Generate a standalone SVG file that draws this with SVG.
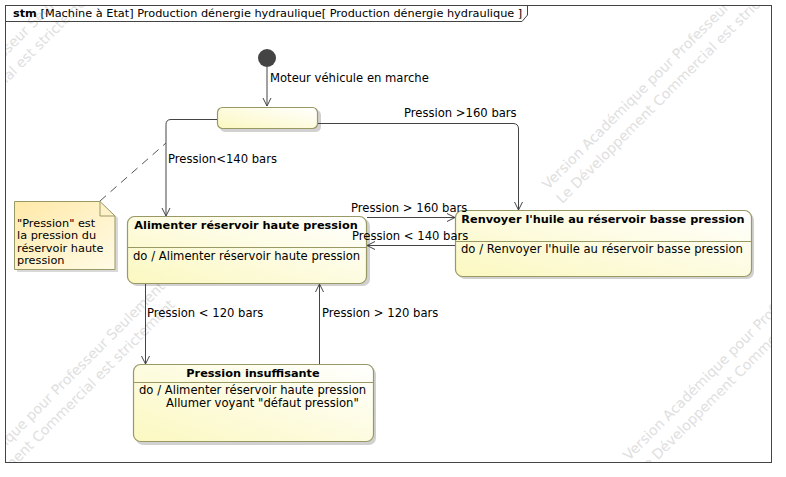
<svg xmlns="http://www.w3.org/2000/svg" width="786" height="477" viewBox="0 0 786 477">
<style>
text{font-family:"DejaVu Sans",Verdana,sans-serif;font-size:11.6px;fill:#000}
.b{font-weight:bold;font-size:11.3px}
.t{font-size:11.3px}
.n{font-size:11.3px}
.wm{font-size:14px;fill:#e0e0e0}
.st{stroke:#999966;stroke-width:1.2;fill:url(#g)}
.sh{fill:#000;opacity:0.18}
.c{fill:none;stroke:#444;stroke-width:1}
.sep{stroke:#999966;stroke-width:1}
</style>
<defs>
<linearGradient id="g" x1="0" y1="1" x2="1" y2="0">
<stop offset="0" stop-color="#FBF8C0"/>
<stop offset="1" stop-color="#FFFFFF"/>
</linearGradient>
<linearGradient id="gn" x1="0" y1="0" x2="1" y2="1">
<stop offset="0" stop-color="#FFE9A8"/>
<stop offset="1" stop-color="#FFFBE6"/>
</linearGradient>
<marker id="a" markerWidth="10" markerHeight="10" refX="9" refY="5" orient="auto" markerUnits="userSpaceOnUse">
<path d="M1,1 L9,5 L1,9" fill="none" stroke="#444" stroke-width="1"/>
</marker>
<clipPath id="fc"><rect x="5" y="5" width="767" height="458"/></clipPath>
</defs>
<rect width="786" height="477" fill="#fff"/>
<g id="watermark" clip-path="url(#fc)">
<g transform="translate(548,190) rotate(-45)"><text class="wm">Version Académique pour Professeur Seulement</text><text class="wm" y="20">Le Développement Commercial est strictement</text></g>
<g transform="translate(-152,214) rotate(-45)"><text class="wm">Version Académique pour Professeur Seulement</text><text class="wm" y="20">Le Développement Commercial est strictement</text></g>
<g transform="translate(-73,526) rotate(-45)"><text class="wm">Version Académique pour Professeur Seulement</text><text class="wm" y="20">Le Développement Commercial est strictement</text></g>
<g transform="translate(629,461) rotate(-45)"><text class="wm">Version Académique pour Professeur Seulement</text><text class="wm" y="20">Le Développement Commercial est strictement</text></g>
</g>
<g id="frame">
<rect x="5.5" y="5.5" width="766" height="457" fill="none" stroke="#444"/>
<path d="M5.5,21.5 H522 L527.5,15 V5.5" fill="none" stroke="#444"/>
<text class="t" x="13" y="17"><tspan class="b">stm</tspan> [Machine à Etat] Production dénergie hydraulique[ Production dénergie hydraulique ]</text>
</g>
<g id="initial">
<circle cx="267" cy="58" r="9" fill="#444"/>
</g>
<g id="state0">
<rect class="sh" x="220" y="110" width="101" height="22" rx="5"/>
<rect class="st" x="217.5" y="107.5" width="100" height="21" rx="5"/>
</g>
<g id="note">
<path d="M17,204 H103 L118,218 V272 H17 Z" fill="#000" opacity="0.15"/>
<path d="M14.5,201.5 H100 L115,216 V269.5 H14.5 Z" fill="url(#gn)" stroke="#999966"/>
<path d="M100,201.5 V216 H115" fill="none" stroke="#999966"/>
<text class="n" x="17" y="226.5">"Pression" est</text>
<text class="n" x="17" y="239">la pression du</text>
<text class="n" x="17" y="251.5">réservoir haute</text>
<text class="n" x="17" y="264">pression</text>
</g>
<g id="alimenter">
<rect class="sh" x="130" y="219" width="240" height="67" rx="7"/>
<rect class="st" x="127.5" y="216.5" width="239" height="67" rx="7"/>
<line class="sep" x1="128" y1="247.5" x2="366" y2="247.5"/>
<text class="b" x="246" y="229" text-anchor="middle">Alimenter réservoir haute pression</text>
<text x="133" y="260">do / Alimenter réservoir haute pression</text>
</g>
<g id="renvoyer">
<rect class="sh" x="458" y="213" width="296" height="66" rx="7"/>
<rect class="st" x="455.5" y="210.5" width="296" height="66" rx="7"/>
<line class="sep" x1="456" y1="241.5" x2="751" y2="241.5"/>
<text class="b" x="603" y="223" text-anchor="middle">Renvoyer l'huile au réservoir basse pression</text>
<text x="461" y="253">do / Renvoyer l'huile au réservoir basse pression</text>
</g>
<g id="insuffisante">
<rect class="sh" x="136" y="367" width="240" height="78" rx="7"/>
<rect class="st" x="133.5" y="364.5" width="240" height="77" rx="7"/>
<line class="sep" x1="134" y1="382.5" x2="373" y2="382.5"/>
<text class="b" x="253" y="377" text-anchor="middle">Pression insuffisante</text>
<text x="139" y="394">do / Alimenter réservoir haute pression</text>
<text x="166" y="407">Allumer voyant "défaut pression"</text>
</g>
<g id="connectors">
<path class="c" d="M267,67 V106" marker-end="url(#a)"/>
<path class="c" d="M217,119.5 H171 Q166,119.5 166,124.5 V216" marker-end="url(#a)"/>
<path class="c" d="M318,123.5 H513 Q518.5,123.5 518.5,129 V210" marker-end="url(#a)"/>
<path class="c" d="M367,217.5 H455" marker-end="url(#a)"/>
<path class="c" d="M455,245.5 H367" marker-end="url(#a)"/>
<path class="c" d="M145.5,284 V364" marker-end="url(#a)"/>
<path class="c" d="M319.5,364 V284" marker-end="url(#a)"/>
<path d="M100,201 L166,143" fill="none" stroke="#555" stroke-dasharray="8,6"/>
<text x="270" y="82">Moteur véhicule en marche</text>
<text x="404" y="117">Pression &gt;160 bars</text>
<text x="168" y="163">Pression&lt;140 bars</text>
<text x="351" y="212">Pression &gt; 160 bars</text>
<text x="352" y="240">Pression &lt; 140 bars</text>
<text x="147" y="317">Pression &lt; 120 bars</text>
<text x="322" y="317">Pression &gt; 120 bars</text>
</g>
</svg>
